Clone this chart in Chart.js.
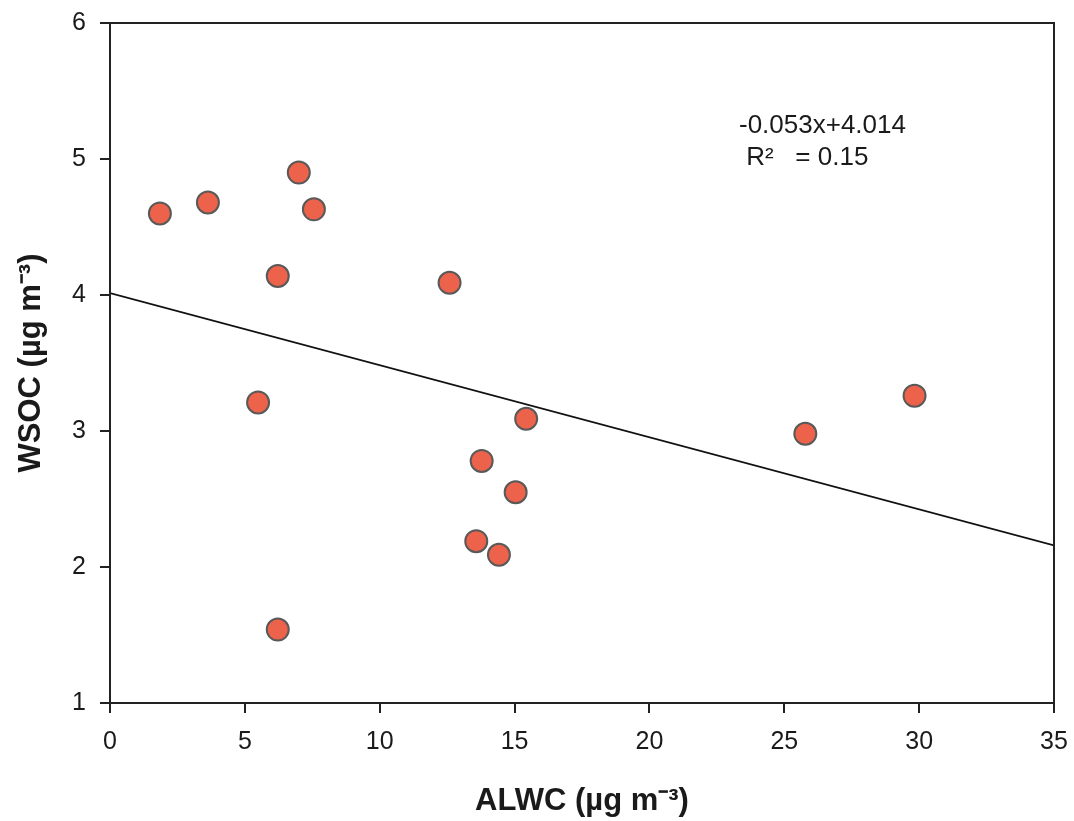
<!DOCTYPE html>
<html>
<head>
<meta charset="utf-8">
<script src="https://cdn.jsdelivr.net/npm/chart.js@4.4.1/dist/chart.umd.min.js"></script>
<style>
  html, body { margin: 0; padding: 0; background: #ffffff; }
  #wrap { width: 1074px; height: 821px; }
</style>
</head>
<body>
<div id="wrap"><canvas id="c" width="1074" height="821"></canvas></div>
<script>
// ---- Data ----
const alwc = [1.85, 3.63, 7.00, 7.56, 6.22, 12.59, 15.43, 13.78, 15.04, 13.58, 14.42, 25.78, 29.83, 5.49, 6.22];
const wsoc = [4.60, 4.68, 4.90, 4.63, 4.14, 4.09, 3.09, 2.78, 2.55, 2.19, 2.09, 2.98, 3.26, 3.21, 1.54];
const fitSlope = -0.053;
const fitIntercept = 4.014;
const fitRange = [0, 35];
const xTicks = [0, 5, 10, 15, 20, 25, 30, 35];
const yTicks = [1, 2, 3, 4, 5, 6];
const eqLabel = "-0.053x+4.014";
const r2Label = " R\u00B2   = 0.15";
const xTitle = "ALWC (\u00B5g m\u207B\u00B3)";
const yTitle = "WSOC (\u00B5g m\u207B\u00B3)";

const points = alwc.map((x, i) => ({ x: x, y: wsoc[i] }));
const fitLine = fitRange.map(x => ({ x: x, y: fitIntercept + fitSlope * x }));

const FONT = "'Liberation Sans', Arial, sans-serif";
const INK = '#1a1a1a';

const framePlugin = {
  id: 'frame',
  afterDraw(chart) {
    const { ctx, chartArea: a } = chart;
    ctx.save();
    ctx.strokeStyle = '#222';
    ctx.lineWidth = 2;
    ctx.strokeRect(a.left, a.top, a.right - a.left, a.bottom - a.top);
    // annotation text
    ctx.fillStyle = INK;
    ctx.font = "26px " + FONT;
    ctx.textBaseline = 'middle';
    ctx.textAlign = 'left';
    ctx.fillText(eqLabel, a.left + 629, a.top + 103);
    ctx.fillText(r2Label, a.left + 629, a.top + 135);
    ctx.restore();
  }
};

new Chart(document.getElementById('c'), {
  data: {
    datasets: [
      {
        type: 'line',
        data: fitLine,
        borderColor: '#111',
        borderWidth: 1.8,
        pointRadius: 0,
        fill: false,
        order: 2
      },
      {
        type: 'scatter',
        data: points,
        backgroundColor: '#EC624A',
        borderColor: '#595959',
        borderWidth: 2,
        pointRadius: 11,
        pointHoverRadius: 11,
        order: 1
      }
    ]
  },
  options: {
    responsive: false,
    animation: false,
    events: [],
    layout: { padding: { top: 23, right: 20, left: 0, bottom: 0 } },
    plugins: { legend: { display: false }, tooltip: { enabled: false } },
    scales: {
      x: {
        type: 'linear',
        min: 0, max: 35,
        afterFit(s) { s.height = 118; s.paddingLeft = 0; s.paddingRight = 0; },
        afterBuildTicks(s) { s.ticks = xTicks.map(v => ({ value: v })); },
        ticks: { font: { family: FONT, size: 25 }, color: INK, padding: 14, maxRotation: 0 },
        grid: { display: true, drawOnChartArea: false, drawTicks: true, tickLength: 10, color: '#222', lineWidth: 2 },
        border: { display: false },
        title: { display: true, text: xTitle, font: { family: FONT, size: 31, weight: 'bold' }, color: INK, padding: { top: 0, bottom: 1 } }
      },
      y: {
        type: 'linear',
        min: 1, max: 6,
        afterFit(s) { s.width = 110; s.paddingTop = 0; s.paddingBottom = 0; },
        afterBuildTicks(s) { s.ticks = yTicks.map(v => ({ value: v })); },
        ticks: { font: { family: FONT, size: 25 }, color: INK, padding: 14 },
        grid: { display: true, drawOnChartArea: false, drawTicks: true, tickLength: 10, color: '#222', lineWidth: 2 },
        border: { display: false },
        title: { display: true, text: yTitle, font: { family: FONT, size: 31, weight: 'bold' }, color: INK, padding: { top: 13, bottom: 0 } }
      }
    }
  },
  plugins: [framePlugin]
});
</script>
</body>
</html>
